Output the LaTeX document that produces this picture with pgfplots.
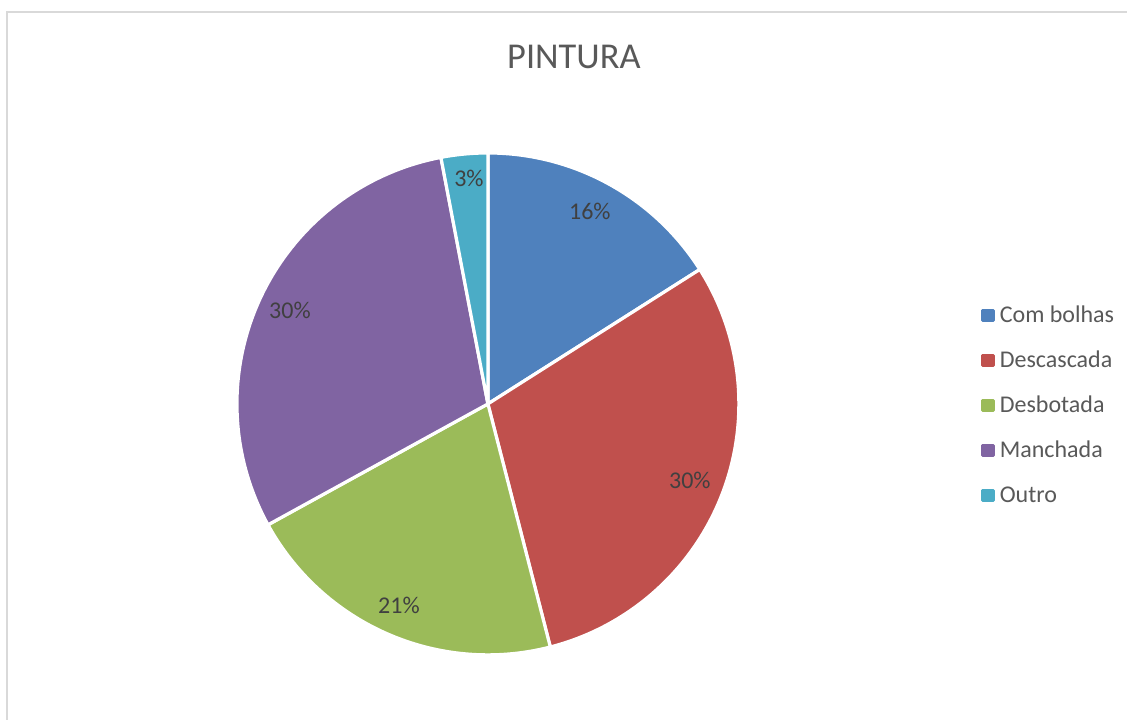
\documentclass[border=0pt]{standalone}
\usepackage{pgfplots}
\pgfplotsset{compat=1.18}
\usepackage{pgfplotstable}
\usepackage{fontspec}
\setmainfont{Carlito}
\definecolor{c1}{HTML}{4F81BD}
\definecolor{c2}{HTML}{C0504D}
\definecolor{c3}{HTML}{9BBB59}
\definecolor{c4}{HTML}{8064A2}
\definecolor{c5}{HTML}{4BACC6}
\definecolor{titlegray}{HTML}{595959}
\definecolor{labgray}{HTML}{404040}
\definecolor{frame}{HTML}{D9D9D9}
% color, cumulative percent before, value (percent), name
\newcommand{\pieslice}[4]{%
  \pgfmathsetmacro\sa{90-3.6*#2}%
  \pgfmathsetmacro\ea{90-3.6*(#2+#3)}%
  \edef\temp{\noexpand\addplot[fill=#1, draw=white, line width=1.6pt, line join=round, domain=\ea:\sa, samples=120,
     legend image code/.code={\noexpand\fill[#1] (0pt,-2.6pt) rectangle (5.2pt,2.6pt);}]
     ({488+251*cos(x)},{316+251*sin(x)}) -- (axis cs:488,316) -- cycle;}%
  \temp
  \addlegendentry{#4}
}
\begin{document}
\begin{tikzpicture}
\begin{axis}[
  width=564pt, height=360pt, scale only axis,
  xmin=0, xmax=1128, ymin=0, ymax=720,
  hide axis, clip=false,
  legend cell align=left,
  legend style={draw=none, fill=none, at={(axis cs:975,422)}, anchor=north west,
    font=\fontsize{12pt}{14pt}\selectfont, text=titlegray,
    nodes={inner sep=0pt, text height=10pt, text depth=3pt},
    row sep=9.5pt, column sep=2.5pt},
]
\fill[white] (axis cs:0,0) rectangle (axis cs:1128,720);
\draw[frame, line width=1.2pt] (axis cs:7,0) -- (axis cs:7,708) -- (axis cs:1127,708);
\pieslice{c1}{0}{16}{Com bolhas}
\pieslice{c2}{16}{30}{Descascada}
\pieslice{c3}{46}{21}{Desbotada}
\pieslice{c4}{67}{30}{Manchada}
\pieslice{c5}{97}{3}{Outro}
\node[text=titlegray, font=\fontsize{18.2pt}{22pt}\selectfont] at (axis cs:574,663) {PINTURA};
\begin{scope}[every node/.style={text=labgray, font=\fontsize{12pt}{14pt}\selectfont}]
\node at (axis cs:590,509) {16\%};
\node at (axis cs:690,239) {30\%};
\node at (axis cs:399,114) {21\%};
\node at (axis cs:290,410) {30\%};
\node at (axis cs:469,542) {3\%};
\end{scope}
\end{axis}
\end{tikzpicture}
\end{document}
